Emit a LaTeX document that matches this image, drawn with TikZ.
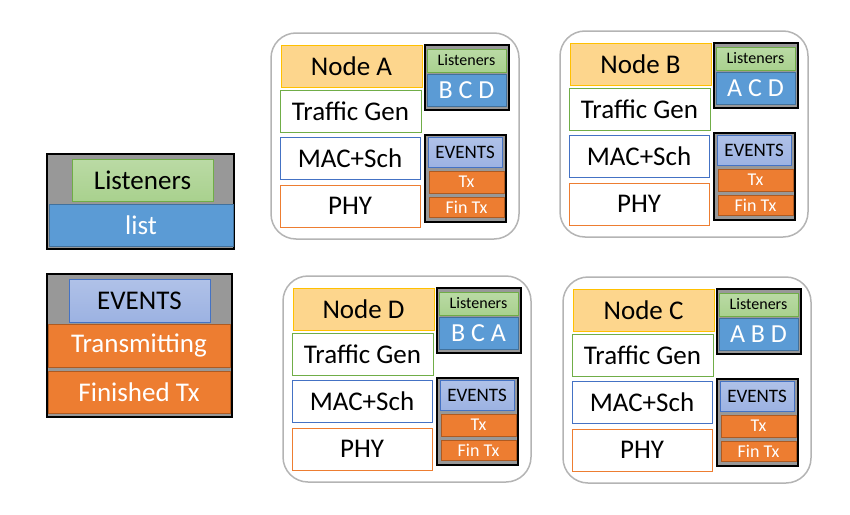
\documentclass[tikz,border=0pt]{standalone}
\usepackage{fontspec}
\setmainfont{Carlito}
\definecolor{headfill}{HTML}{FDD68D}
\definecolor{headline}{HTML}{FFC000}
\definecolor{grfill}{HTML}{A9D18E}
\definecolor{grline}{HTML}{70AD47}
\definecolor{blfill}{HTML}{5B9BD5}
\definecolor{blline}{HTML}{41719C}
\definecolor{gyfill}{HTML}{989898}
\definecolor{evfill}{HTML}{9CB2E2}
\definecolor{evline}{HTML}{4472C4}
\definecolor{orfill}{HTML}{ED7D31}
\definecolor{orline}{HTML}{AE5A21}
\definecolor{frline}{HTML}{B4B4B4}
\tikzset{
  every node/.style={inner sep=0pt,outer sep=0pt},
  big/.style={font=\fontsize{27}{31}\selectfont},
  frame/.style={draw=frline,line width=1.5pt,fill=white,rounded corners=25pt},
  headbox/.style={draw=headline,fill=headfill,line width=0.9pt,big},
  tgbox/.style={draw=grline,fill=white,line width=0.9pt,big},
  macbox/.style={draw=evline,fill=white,line width=0.9pt,big},
  phybox/.style={draw=orfill,fill=white,line width=0.9pt,big},
  graybox/.style={draw=black,fill=gyfill,line width=1.3pt},
  greenbox/.style={draw=grline,top color=grfill!80!white,bottom color=grfill,line width=0.9pt},
  bluebox/.style={draw=blline,fill=blfill,line width=0.9pt,text=white},
  evbox/.style={draw=evline,top color=evfill!80!white,bottom color=evfill,line width=0.9pt},
  orbox/.style={draw=orline,fill=orfill,line width=0.9pt,text=white},
}
\newcommand\bx[7]{\node[#2,minimum width={(#5-#3)*1pt},minimum height={(#6-#4)*1pt}] (#1) at ({(#3+#5)/2},{(#4+#6)/2}) {#7};}
\newcommand\nodegroup[5]{%
\begin{scope}[shift={(#2,#3)}]
  \bx{#1-frame}{frame}{0}{0}{248}{206}{}
  \bx{#1-head}{headbox}{10}{12}{151}{54}{#4}
  \bx{#1-tg}{tgbox}{9}{57}{150}{99}{Traffic Gen}
  \bx{#1-mac}{macbox}{9}{104}{149}{146}{MAC+Sch}
  \bx{#1-phy}{phybox}{9}{152}{149}{194}{PHY}
  \bx{#1-lis}{graybox}{154}{12}{238}{77}{}
  \bx{#1-listitle}{greenbox,font=\fontsize{16}{18}\selectfont}{156}{16}{235}{39}{Listeners}
  \bx{#1-list}{bluebox,font=\fontsize{26}{28}\selectfont}{156}{41}{235}{73}{#5}
  \bx{#1-ev}{graybox}{154}{102}{235}{189}{}
  \bx{#1-evtitle}{evbox,font=\fontsize{19}{21}\selectfont}{157}{104}{231}{134}{EVENTS}
  \bx{#1-tx}{orbox,font=\fontsize{18}{20}\selectfont}{158}{138}{233}{160}{Tx}
  \bx{#1-fin}{orbox,font=\fontsize{18}{20}\selectfont}{158}{164}{233}{184}{Fin Tx}
\end{scope}}
\begin{document}
\begin{tikzpicture}[x=1pt,y=-1pt]
\useasboundingbox (0,0) rectangle (850,514);
% legend: listeners
\bx{lg-lis}{graybox}{47}{154}{234}{249}{}
\bx{lg-listitle}{greenbox,big}{72}{159}{213}{201}{Listeners}
\bx{lg-list}{bluebox,big}{49}{204}{233}{246}{list}
% legend: events
\bx{lg-ev}{graybox}{47}{274}{232}{417}{}
\bx{lg-evtitle}{evbox,big}{69}{279}{210}{322}{EVENTS}
\bx{lg-trans}{orbox,big}{48}{324}{230}{367}{Transmitting}
\bx{lg-fin}{orbox,big}{48}{371}{230}{413}{Finished Tx}
% node groups
\nodegroup{A}{271}{33}{Node A}{B C D}
\nodegroup{B}{560}{31}{Node B}{A C D}
\nodegroup{D}{283}{276}{Node D}{B C A}
\nodegroup{C}{563}{277}{Node C}{A B D}
\end{tikzpicture}
\end{document}
